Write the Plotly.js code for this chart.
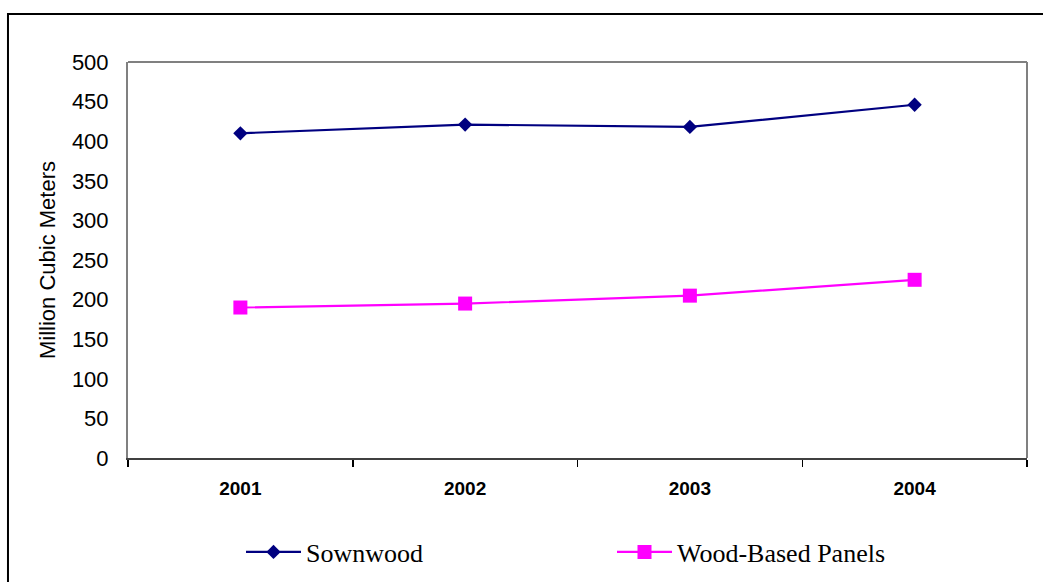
<!DOCTYPE html>
<html>
<head>
<meta charset="utf-8">
<script src="https://cdn.plot.ly/plotly-3.0.1.min.js"></script>
<style>
  html, body { margin: 0; padding: 0; background: #fff; }
  #chart { width: 1043px; height: 582px; }
</style>
</head>
<body>
<div id="chart"></div>
<script>
// Annual production, million cubic meters
const years = ['2001', '2002', '2003', '2004'];
const sownwood = [410, 421, 418, 446];
const woodBasedPanels = [190, 195, 205, 225];
const yTicks = [0, 50, 100, 150, 200, 250, 300, 350, 400, 450, 500];

const traces = [
  {
    x: years, y: sownwood, name: 'Sownwood',
    type: 'scatter', mode: 'lines+markers',
    line: { color: '#000080', width: 2.2 },
    marker: { symbol: 'diamond', size: 11, color: '#000080' }
  },
  {
    x: years, y: woodBasedPanels, name: 'Wood-Based Panels',
    type: 'scatter', mode: 'lines+markers',
    line: { color: '#FF00FF', width: 2.2 },
    marker: { symbol: 'square', size: 14, color: '#FF00FF' }
  }
];

const layout = {
  width: 1043, height: 582,
  margin: { l: 128, r: 16, t: 62, b: 124 },
  paper_bgcolor: '#ffffff', plot_bgcolor: '#ffffff',
  font: { family: 'Liberation Sans, Arial, sans-serif', color: '#000' },
  showlegend: true,
  legend: {
    orientation: 'h',
    xref: 'container', x: 241 / 1043, xanchor: 'left',
    yref: 'container', y: 1 - 552 / 582, yanchor: 'middle',
    font: { family: 'Liberation Serif, Times New Roman, serif', size: 26, color: '#000' },
    itemwidth: 55, entrywidth: 301, entrywidthmode: 'pixels',
    bgcolor: 'rgba(0,0,0,0)'
  },
  xaxis: {
    type: 'category', range: [-0.5, 3.5], fixedrange: true,
    tickson: 'boundaries', ticks: 'outside', ticklen: 7, tickwidth: 1.5, tickcolor: '#000',
    tickfont: { size: 19, weight: 'bold', family: 'Liberation Sans, Arial, sans-serif' },
    ticklabelstandoff: 12,
    showline: true, linecolor: '#404040', linewidth: 2,
    showgrid: false, zeroline: false
  },
  yaxis: {
    range: [0, 500], tickvals: yTicks, fixedrange: true,
    ticks: 'outside', ticklen: 13, tickcolor: 'rgba(0,0,0,0)',
    tickfont: { size: 22, family: 'Liberation Sans, Arial, sans-serif' },
    showline: true, linecolor: '#808080', linewidth: 2,
    showgrid: false, zeroline: false,
    title: { text: 'Million Cubic Meters', font: { size: 22 }, standoff: 10 }
  },
  shapes: [
    // upper and right edges of the plot frame
    { type: 'line', xref: 'paper', yref: 'paper', x0: 0, x1: 1, y0: 1, y1: 1,
      line: { color: '#808080', width: 2 } },
    { type: 'line', xref: 'paper', yref: 'paper', x0: 1, x1: 1, y0: 0, y1: 1,
      line: { color: '#808080', width: 2 } },
    // outer chart border
    { type: 'rect', xref: 'paper', yref: 'paper',
      x0: -0.1335, x1: 1.2, y0: -0.6, y1: 1.1212,
      line: { color: '#000', width: 2 }, layer: 'below' }
  ]
};

Plotly.newPlot('chart', traces, layout, { displayModeBar: false, staticPlot: true });
</script>
</body>
</html>
